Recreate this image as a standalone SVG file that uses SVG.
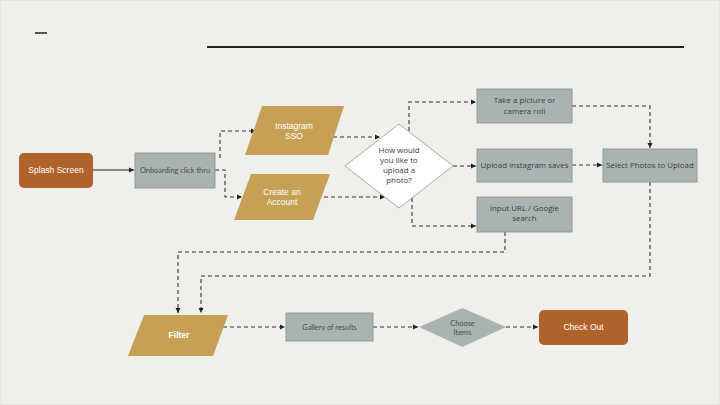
<svg xmlns="http://www.w3.org/2000/svg" width="720" height="405" viewBox="0 0 720 405">
<defs>
<marker id="ah" markerWidth="6" markerHeight="6" refX="5" refY="3" orient="auto" markerUnits="userSpaceOnUse">
<path d="M0,0.5 L5,3 L0,5.5 Z" fill="#222"/>
</marker>
<style>
.dash{fill:none;stroke:#333;stroke-width:1.1;stroke-dasharray:4 3;marker-end:url(#ah)}
.solid{fill:none;stroke:#222;stroke-width:1.1;marker-end:url(#ah)}
.orange{fill:#b0622b}
.gold{fill:#c6a055}
.grey{fill:#a9b4b2;stroke:#8e9b99;stroke-width:1}
.wt{fill:#fff;font-family:"Liberation Sans",Arial,sans-serif;font-size:8.5px;text-anchor:middle}
.gt{fill:#3d3d3d;font-family:"Open Sans","Liberation Sans",sans-serif;font-size:7.9px;text-anchor:middle}
.lt{fill:#4a4a4a;font-family:Lato,"Liberation Sans",sans-serif;font-size:7.4px;text-anchor:middle}
</style>
</defs>
<rect x="0" y="0" width="720" height="405" fill="#efefeb"/>
<rect x="0.5" y="0.5" width="719" height="404" fill="none" stroke="#e4e4e0"/>
<line x1="35" y1="33" x2="47" y2="33" stroke="#222" stroke-width="1.5"/>
<line x1="207" y1="47" x2="684" y2="47" stroke="#222" stroke-width="2.2"/>

<g id="connectors">
<path class="solid" d="M93,170 H134"/>
<path class="dash" d="M220,158 V131 H256"/>
<path class="dash" d="M215,170 H225 V197 H242"/>
<path class="dash" d="M333,137 H380"/>
<path class="dash" d="M317,197 H385"/>
<path class="dash" d="M409,131 V102 H476"/>
<path class="dash" d="M453,166 H476"/>
<path class="dash" d="M412,198 V226 H476"/>
<path class="dash" d="M572,106 H650 V148"/>
<path class="dash" d="M572,165 H602"/>
<path class="dash" d="M650,182 V276 H201 V313"/>
<path class="dash" d="M505,232 V252 H178 V313"/>
<path class="dash" d="M223,327 H285"/>
<path class="dash" d="M373,327 H418"/>
<path class="dash" d="M506,327 H538"/>
</g>

<g id="splash">
<rect class="orange" x="19" y="153" width="74" height="35" rx="5"/>
<text class="wt" x="56" y="173">Splash Screen</text>
</g>
<g id="onboarding">
<rect class="grey" x="135" y="153" width="80" height="35"/>
<text class="lt" x="175" y="173">Onboarding click thru</text>
</g>
<g id="instagram-sso">
<polygon class="gold" points="262,106 344,106 328,155 245,155"/>
<text class="wt" x="294" y="129">Instagram</text>
<text class="wt" x="294" y="139">SSO</text>
</g>
<g id="create-account">
<polygon class="gold" points="251,174 330,174 313,220 234,220"/>
<text class="wt" x="282" y="195">Create an</text>
<text class="wt" x="282" y="205">Account</text>
</g>
<g id="upload-decision">
<polygon points="345,166 399,124 453,166 399,208" fill="#fff" stroke="#999" stroke-width="0.8"/>
<text class="gt" x="399" y="153">How would</text>
<text class="gt" x="399" y="163">you like to</text>
<text class="gt" x="399" y="173">upload a</text>
<text class="gt" x="399" y="183">photo?</text>
</g>
<g id="take-picture">
<rect class="grey" x="477" y="89" width="95" height="34"/>
<text class="gt" x="524.5" y="103">Take a picture or</text>
<text class="gt" x="524.5" y="114">camera roll</text>
</g>
<g id="upload-saves">
<rect class="grey" x="477" y="149" width="95" height="33"/>
<text class="gt" x="524.5" y="168">Upload instagram saves</text>
</g>
<g id="input-url">
<rect class="grey" x="477" y="197" width="95" height="35"/>
<text class="gt" x="524.5" y="211">input URL / Google</text>
<text class="gt" x="524.5" y="221">search</text>
</g>
<g id="select-photos">
<rect class="grey" x="603" y="149" width="94" height="33"/>
<text class="gt" x="650" y="168">Select Photos to Upload</text>
</g>
<g id="filter">
<polygon class="gold" points="144,315 228,315 213,356 128,356"/>
<text class="wt" x="179" y="338" font-weight="bold">Filter</text>
</g>
<g id="gallery">
<rect class="grey" x="286" y="313" width="87" height="28"/>
<text class="lt" x="329.5" y="330">Gallery of results</text>
</g>
<g id="choose-items">
<polygon points="419,327 462.5,308 506,327 462.5,347" fill="#a9b4b2"/>
<text class="lt" x="462.5" y="326">Choose</text>
<text class="lt" x="462.5" y="335">Items</text>
</g>
<g id="checkout">
<rect class="orange" x="539" y="310" width="89" height="35" rx="5"/>
<text class="wt" x="583.5" y="330">Check Out</text>
</g>
</svg>
